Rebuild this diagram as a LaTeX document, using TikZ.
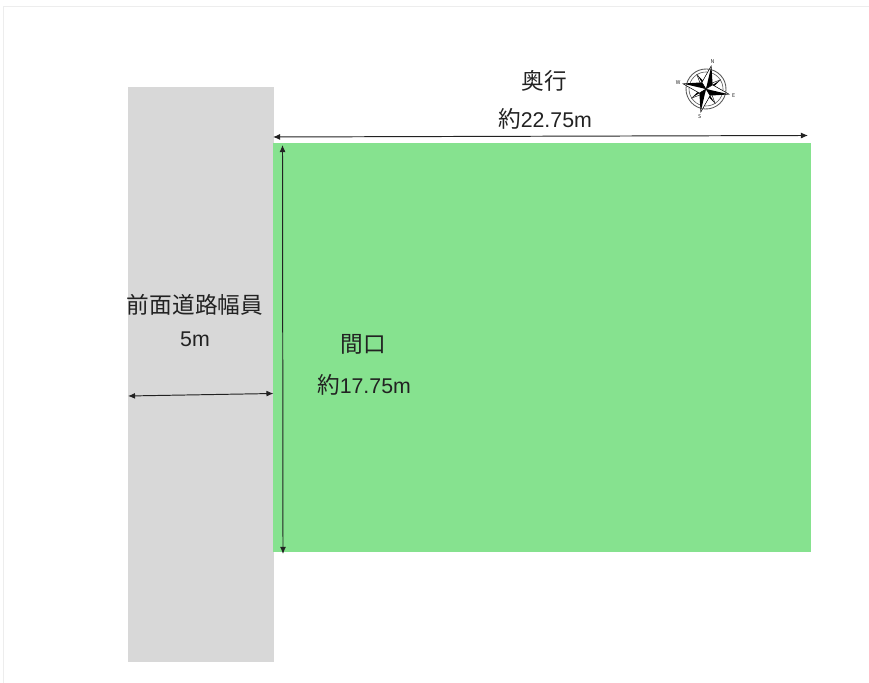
\documentclass[tikz,border=0pt]{standalone}
\usepackage{fontspec}
\setmainfont{Noto Sans CJK JP}
\newfontfamily\latinfont[Scale=0.94]{Liberation Sans}
\usetikzlibrary{arrows.meta}
\definecolor{roadgray}{HTML}{D8D8D8}
\definecolor{lotgreen}{HTML}{86E28F}
\definecolor{inkgray}{HTML}{222222}
\tikzset{
	dimline/.style={draw=inkgray, line width=0.55pt, {Latex[length=4pt,width=3.4pt]}-{Latex[length=4pt,width=3.4pt]}},
	dimlabel/.style={text=inkgray, font=\fontsize{12.9pt}{15pt}\selectfont, inner sep=0pt},
	dirlabel/.style={text=inkgray, font=\fontsize{3pt}{3.5pt}\selectfont, inner sep=0pt}
}
\begin{document}
\begin{tikzpicture}
	\useasboundingbox (0,0) rectangle (17.38,13.66);
	\draw [color=black!7, line width=0.5pt] (0.07,0) |- (17.38,13.54);

	\fill [roadgray] (2.56,0.42) rectangle (5.47,11.92);
	\fill [lotgreen] (5.45,2.62) rectangle (16.22,10.80);

	\coordinate (topL) at (5.46,10.92);
	\coordinate (topR) at (16.16,10.95);
	\coordinate (sideT) at (5.65,10.76);
	\coordinate (sideB) at (5.66,2.58);
	\coordinate (roadL) at (2.56,5.74);
	\coordinate (roadR) at (5.47,5.79);

	\draw [dimline] (topL) -- (topR);
	\draw [dimline] (sideT) -- (sideB);
	\draw [dimline] (roadL) -- (roadR);

	\node [dimlabel] (depthA) at (10.88,12.04) {奥行};
	\node [dimlabel] (depthB) at (10.90,11.28) {約{\latinfont 22.75m}};
	\node [dimlabel] (roadA) at (3.90,7.56) {前面道路幅員};
	\node [dimlabel] (roadB) at (3.90,6.88) {\latinfont 5m};
	\node [dimlabel] (frontA) at (7.26,6.78) {間口};
	\node [dimlabel] (frontB) at (7.28,5.96) {約{\latinfont 17.75m}};

	% compass
	\begin{scope}[shift={(14.12,11.88)}, rotate=-13]
		\draw [line width=0.5pt, color=black!65] (0,0) circle (0.40);
		\draw [line width=0.35pt, color=black!65] (0,0) circle (0.34);
		\foreach \ang in {45,135,225,315} {
			\begin{scope}[rotate=\ang]
				\fill [white] (0,0) -- (-0.06,0.06) -- (0,0.35) -- (0.06,0.06) -- cycle;
				\draw [line width=0.25pt] (0,0) -- (-0.06,0.06) -- (0,0.35);
				\fill [black] (0,0) -- (0,0.35) -- (0.06,0.06) -- cycle;
			\end{scope}
		}
		\foreach \ang in {0,90,180,270} {
			\begin{scope}[rotate=\ang]
				\fill [white] (0,0) -- (-0.11,0.11) -- (0,0.48) -- cycle;
				\draw [line width=0.3pt] (0,0) -- (-0.11,0.11) -- (0,0.48);
				\fill [black] (0,0) -- (0,0.48) -- (0.11,0.11) -- cycle;
			\end{scope}
		}
		\node [dirlabel] (dirN) at (0,0.57) {N};
		\node [dirlabel] (dirE) at (0.57,0) {E};
		\node [dirlabel] (dirS) at (0,-0.57) {S};
		\node [dirlabel] (dirW) at (-0.57,0) {W};
	\end{scope}
\end{tikzpicture}
\end{document}
